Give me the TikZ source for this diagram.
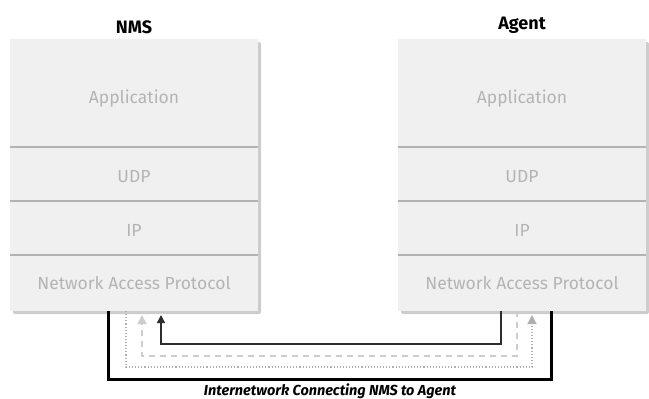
\documentclass[tikz,border=0pt]{standalone}
\usepackage{fontspec}
\setmainfont{Fira Sans}
\usepackage{tikz}
\usetikzlibrary{arrows.meta,positioning,backgrounds}
\definecolor{layerfill}{RGB}{240,240,240}
\definecolor{layerrule}{RGB}{178,178,178}
\definecolor{layerink}{RGB}{180,180,180}
\definecolor{boxshade}{RGB}{205,205,205}
\definecolor{pathdot}{RGB}{175,175,175}
\definecolor{pathdash}{RGB}{205,205,205}
\definecolor{pathsolid}{RGB}{45,45,45}

\begin{document}
\begin{tikzpicture}[x=1pt,y=-1pt,
    layer/.style={rectangle,fill=layerfill,inner sep=0pt,outer sep=0pt,minimum width=248pt},
    ink/.style={text=layerink,font=\fontsize{17.5}{17.5}\selectfont},
    title/.style={font=\fontsize{18}{18}\selectfont\bfseries,text=black},
    sep/.style={layerrule,line width=1.3pt}]
  \useasboundingbox (0,0) rectangle (649,399);
  % ---- NMS stack
  \node[layer,minimum height=108pt,anchor=north west,label={[ink,yshift=-6pt]center:Application}] (nmsapp) at (10,39) {};
  \node[layer,minimum height=54pt,below=0pt of nmsapp,label={[ink,yshift=-3pt]center:UDP}] (nmsudp) {};
  \node[layer,minimum height=54pt,below=0pt of nmsudp,label={[ink,yshift=-2.5pt]center:IP}] (nmsip) {};
  \node[layer,minimum height=56pt,below=0pt of nmsip,label={[ink]center:Network Access Protocol}] (nmsnap) {};
  \node[title,above=2pt of nmsapp] (nmstitle) {NMS};
  % ---- Agent stack
  \node[layer,minimum height=108pt,anchor=north west,label={[ink,yshift=-6pt]center:Application}] (agtapp) at (398,39) {};
  \node[layer,minimum height=54pt,below=0pt of agtapp,label={[ink,yshift=-3pt]center:UDP}] (agtudp) {};
  \node[layer,minimum height=54pt,below=0pt of agtudp,label={[ink,yshift=-2.5pt]center:IP}] (agtip) {};
  \node[layer,minimum height=56pt,below=0pt of agtip,label={[ink]center:Network Access Protocol}] (agtnap) {};
  \node[title,above=2pt of agtapp] (agttitle) {Agent};
  % ---- shading and rules between layers
  \begin{scope}[on background layer]
    \fill[boxshade,rounded corners=2pt] ([shift={(3pt,-3pt)}]nmsapp.north west) rectangle ([shift={(3pt,-3pt)}]nmsnap.south east);
    \fill[boxshade,rounded corners=2pt] ([shift={(3pt,-3pt)}]agtapp.north west) rectangle ([shift={(3pt,-3pt)}]agtnap.south east);
  \end{scope}
  \foreach \l in {nmsapp,nmsudp,nmsip,agtapp,agtudp,agtip}
    \draw[sep] (\l.south west) -- (\l.south east);
  % ---- internetwork paths
  \draw[black,line width=3pt]
    ([xshift=98pt]nmsnap.south west) -- ++(0,68) -| ([xshift=153pt]agtnap.south west);
  \draw[pathdot,line width=1.1pt,dotted,-{Triangle[length=9pt,width=9pt]}]
    ([xshift=116pt]nmsnap.south west) -- ++(0,56) -| ([xshift=134pt,yshift=-4pt]agtnap.south west);
  \draw[pathdash,line width=1.1pt,dash pattern=on 6pt off 5pt,-{Triangle[length=9pt,width=9pt]}]
    ([xshift=119pt]agtnap.south west) -- ++(0,45) -| ([xshift=132pt,yshift=-4pt]nmsnap.south west);
  \draw[pathsolid,line width=1.4pt,-{Triangle[length=8pt,width=8pt]}]
    ([xshift=103pt]agtnap.south west) -- ++(0,33) -| ([xshift=151pt,yshift=-4pt]nmsnap.south west);
  \node[font=\fontsize{14.5}{14.5}\selectfont\bfseries\itshape] (netlabel) at (330,391) {Internetwork Connecting NMS to Agent};
\end{tikzpicture}
\end{document}
